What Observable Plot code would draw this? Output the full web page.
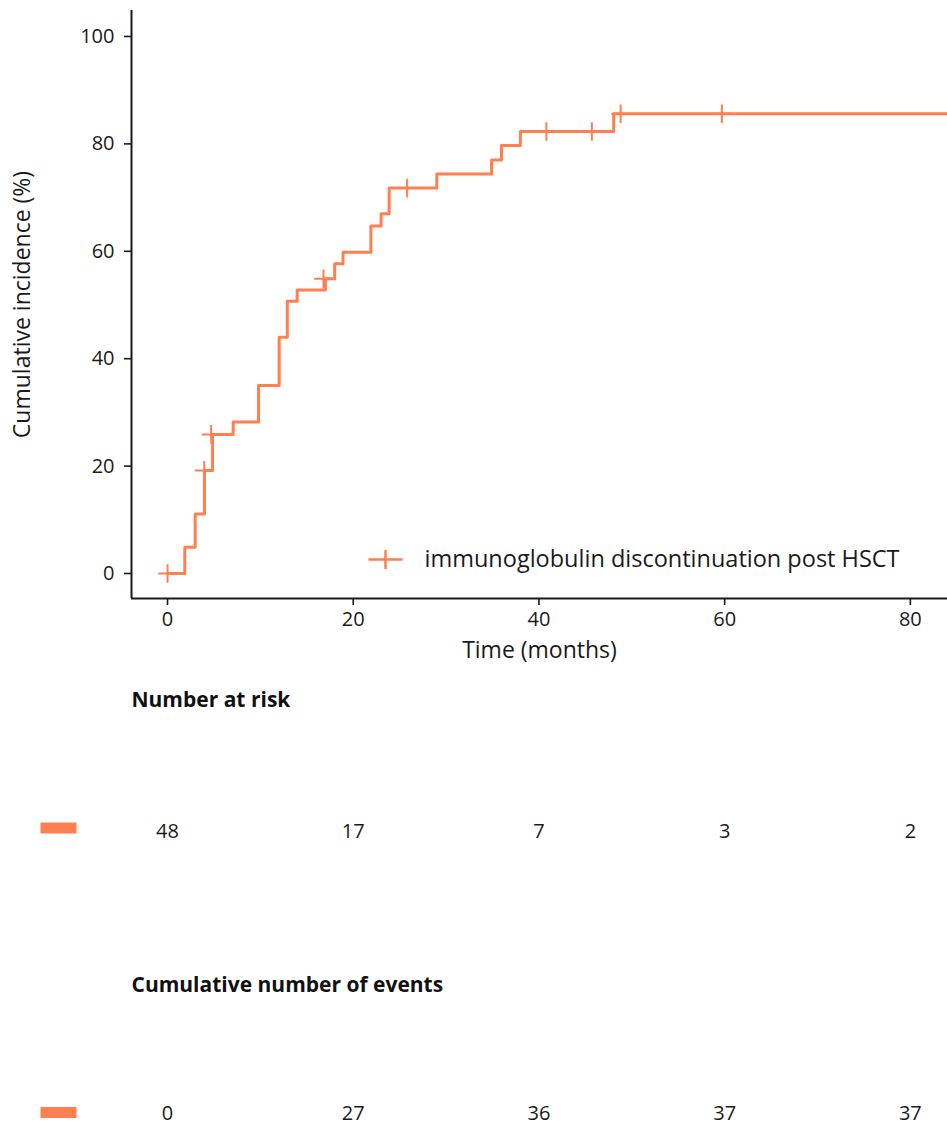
<!DOCTYPE html>
<html>
<head>
<meta charset="utf-8">
<script src="https://cdn.jsdelivr.net/npm/d3@7"></script>
<script src="https://cdn.jsdelivr.net/npm/@observablehq/plot@0.6"></script>
<style>
  body { margin: 0; background: #fff; }
  #chart { position: relative; width: 947px; height: 1129px; overflow: hidden; font-family: "Open Sans", sans-serif; }
  #chart svg { display: block; }
</style>
</head>
<body>
<div id="chart"></div>
<script>
// ---- data ----
const eventTimes = [0, 1.86, 2.98, 3.98, 4.85, 7.07, 9.8, 12.02, 12.9, 13.96, 17.0, 18.0, 18.9, 21.9, 23.0, 23.87, 29.0, 34.9, 35.96, 38.0, 48.05, 84];
const cumIncidence = [0, 4.9, 11.1, 19.2, 25.9, 28.2, 35.0, 44.0, 50.7, 52.8, 54.9, 57.7, 59.8, 64.7, 67.0, 71.8, 74.4, 77.0, 79.7, 82.3, 85.6, 85.6];
const censorTimes = [0, 3.95, 4.7, 16.8, 25.8, 40.8, 45.7, 48.8, 59.7];
const censorIncidence = [0, 19.2, 25.9, 54.9, 71.8, 82.3, 82.3, 85.6, 85.6];
const xTicks = [0, 20, 40, 60, 80];
const yTicks = [0, 20, 40, 60, 80, 100];
const riskTimes = [0, 20, 40, 60, 80];
const numberAtRisk = [48, 17, 7, 3, 2];
const cumulativeEvents = [0, 27, 36, 37, 37];
const seriesName = "immunoglobulin discontinuation post HSCT";
const xLabel = "Time (months)";
const yLabel = "Cumulative incidence (%)";
const table1Title = "Number at risk";
const table2Title = "Cumulative number of events";

// ---- styling ----
const coral = "#FF7F50";
const ink = "#1a1a1a";
const font = '"Open Sans", sans-serif';
const xDomain = [-3.88, 84.0];
const yDomain = [-4.655, 104.84];

const curve = eventTimes.map((t, i) => ({t, v: cumIncidence[i]}));
const censors = censorTimes.map((t, i) => ({t, v: censorIncidence[i]}));
const tableRows = riskTimes.map((t, i) => ({t, atRisk: numberAtRisk[i], events: cumulativeEvents[i]}));

const plusSymbol = {draw(ctx, size) {
  const r = Math.sqrt(size / Math.PI);
  ctx.moveTo(-r, 0); ctx.lineTo(r, 0); ctx.moveTo(0, -r); ctx.lineTo(0, r);
}};
const legendSymbol = {draw(ctx, size) {
  const r = Math.sqrt(size / Math.PI);
  ctx.moveTo(-1.8 * r, 0); ctx.lineTo(1.8 * r, 0); ctx.moveTo(0, -r); ctx.lineTo(0, r);
}};
const swatchSymbol = {draw(ctx, size) {
  ctx.rect(-18, -5.5, 36, 11);
}};

const main = Plot.plot({
  width: 947, height: 665,
  marginTop: 10, marginRight: 0, marginBottom: 67, marginLeft: 131,
  style: {fontFamily: font, fontSize: "20px", color: ink, background: "white"},
  x: {domain: xDomain},
  y: {domain: yDomain},
  marks: [
    Plot.axisX({ticks: xTicks, tickSize: 7, tickPadding: 6, strokeWidth: 1.6, fontSize: 20, label: null}),
    Plot.axisY({ticks: yTicks, tickSize: 7, tickPadding: 10, strokeWidth: 1.6, fontSize: 20, label: null}),
    Plot.ruleX([xDomain[0]], {stroke: ink, strokeWidth: 2}),
    Plot.ruleY([yDomain[0]], {stroke: ink, strokeWidth: 2}),
    Plot.line(curve, {x: "t", y: "v", curve: "step-after", stroke: coral, strokeWidth: 3}),
    Plot.dot(censors, {x: "t", y: "v", symbol: plusSymbol, r: 9.3, stroke: coral, strokeWidth: 2, fill: "none"}),
    Plot.dot([seriesName], {frameAnchor: "bottom-left", dx: 254, dy: -39, symbol: legendSymbol, r: 9.5, stroke: coral, strokeWidth: 2.5, fill: "none"}),
    Plot.text([seriesName], {frameAnchor: "bottom-left", dx: 293, dy: -39, textAnchor: "start", lineAnchor: "middle", fontSize: 23.5, fill: ink}),
    Plot.text([xLabel], {frameAnchor: "bottom", dy: 52, lineAnchor: "middle", textAnchor: "middle", fontSize: 23, fill: ink}),
    Plot.text([yLabel], {frameAnchor: "left", dx: -109, rotate: -90, textAnchor: "middle", lineAnchor: "middle", fontSize: 23, fill: ink})
  ]
});

const table = Plot.plot({
  width: 947, height: 464,
  marginTop: 0, marginRight: 0, marginBottom: 0, marginLeft: 131,
  style: {fontFamily: font, fontSize: "20px", color: ink, background: "white"},
  x: {domain: xDomain, axis: null},
  marks: [
    Plot.text([table1Title], {frameAnchor: "top-left", dy: 35, textAnchor: "start", lineAnchor: "middle", fontWeight: "bold", fontSize: 21, fill: "#111"}),
    Plot.dot([table1Title], {frameAnchor: "top-left", dx: -73, dy: 162.5, symbol: swatchSymbol, r: 10, fill: coral, stroke: "none"}),
    Plot.text(tableRows, {x: "t", text: "atRisk", frameAnchor: "top", dy: 166, lineAnchor: "middle", fontSize: 20, fill: ink}),
    Plot.text([table2Title], {frameAnchor: "top-left", dy: 320, textAnchor: "start", lineAnchor: "middle", fontWeight: "bold", fontSize: 21, fill: "#111"}),
    Plot.dot([table2Title], {frameAnchor: "top-left", dx: -73, dy: 447, symbol: swatchSymbol, r: 10, fill: coral, stroke: "none"}),
    Plot.text(tableRows, {x: "t", text: "events", frameAnchor: "top", dy: 448, lineAnchor: "middle", fontSize: 20, fill: ink})
  ]
});

const root = document.getElementById("chart");
root.appendChild(main);
root.appendChild(table);
</script>
</body>
</html>
